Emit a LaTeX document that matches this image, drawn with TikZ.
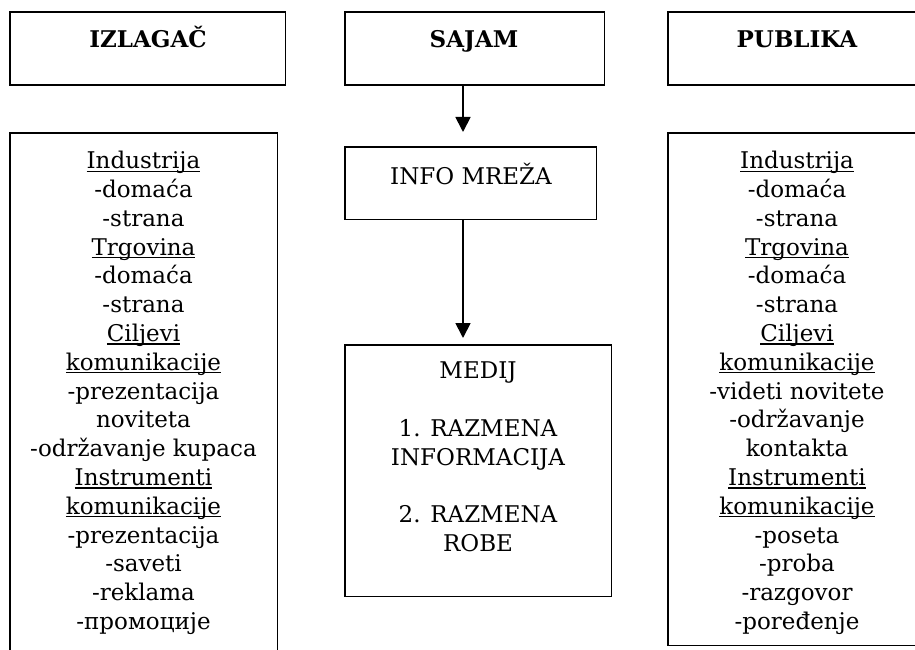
\documentclass[tikz,border=0pt]{standalone}
\usepackage{fontspec}
\setmainfont{DejaVu Serif}
\usetikzlibrary{arrows.meta}
\newcommand\ulin[1]{\setbox0\hbox{#1}\rlap{\rule[-3.2pt]{\wd0}{1.3pt}}\box0}
\tikzset{
  frame/.style={line width=1.8pt},
  boxshape/.style={draw=none, inner sep=0pt, anchor=north west},
  txt/.style={font=\fontsize{23}{28.8}\selectfont, align=center, inner sep=0pt, anchor=north},
  ttl/.style={font=\fontsize{23}{28.8}\selectfont\bfseries, inner sep=0pt, anchor=base},
  arr/.style={line width=1.8pt, -{Triangle[length=15pt,width=15pt]}},
}
\begin{document}
\begin{tikzpicture}[x=1pt,y=-1pt]
\useasboundingbox[fill=white] (0,0) rectangle (915,650);
% top boxes
\node[boxshape, minimum width=275pt, minimum height=73pt] (izl) at (10,12) {};
\node[boxshape, minimum width=259pt, minimum height=73pt] (saj) at (345,12) {};
\node[boxshape, minimum width=247pt, minimum height=73pt] (pub) at (668,12) {};
\draw[frame] (izl.north west) rectangle (izl.south east);
\draw[frame] (saj.north west) rectangle (saj.south east);
\draw[frame] (pub.north east) -- (pub.north west) -- (pub.south west) -- (pub.south east);
\node[ttl] (izlt) at (148,48) {IZLAGAČ};
\node[ttl] (sajt) at (474,48) {SAJAM};
\node[ttl] (pubt) at (797,48) {PUBLIKA};
% middle boxes
\node[boxshape, minimum width=251pt, minimum height=72pt] (info) at (345,147) {};
\node[boxshape, minimum width=266pt, minimum height=251pt] (med) at (345,345) {};
\draw[frame] (info.north west) rectangle (info.south east);
\draw[frame] (med.north west) rectangle (med.south east);
\node[txt, anchor=base] (infot) at (471,184) {INFO MREŽA};
\node[txt] (medt) at (478,362) {MEDIJ\\[28.8pt]1. RAZMENA\\INFORMACIJA\\[28.8pt]2. RAZMENA\\ROBE};
% arrows
\coordinate (arrx) at (463,0);
\draw[arr, shorten >=15pt] (arrx |- saj.south) -- (arrx |- info.north);
\draw[arr, shorten >=7pt] (arrx |- info.south) -- (arrx |- med.north);
% side boxes
\node[boxshape, minimum width=267pt, minimum height=517pt] (lbig) at (10,133) {};
\node[boxshape, minimum width=247pt, minimum height=512pt] (rbig) at (668,133) {};
\draw[frame] (lbig.south west) -- (lbig.north west) -- (lbig.north east) -- (lbig.south east);
\draw[frame] (rbig.north east) -- (rbig.north west) -- (rbig.south west) -- (rbig.south east);
\node[txt] (lt) at (143.5,151) {\ulin{Industrija}\\-domaća\\-strana\\\ulin{Trgovina}\\-domaća\\-strana\\\ulin{Ciljevi}\\\ulin{komunikacije}\\-prezentacija\\noviteta\\-održavanje kupaca\\\ulin{Instrumenti}\\\ulin{komunikacije}\\-prezentacija\\-saveti\\-reklama\\-промоције};
\node[txt] (rt) at (797,151) {\ulin{Industrija}\\-domaća\\-strana\\\ulin{Trgovina}\\-domaća\\-strana\\\ulin{Ciljevi}\\\ulin{komunikacije}\\-videti novitete\\-održavanje\\kontakta\\\ulin{Instrumenti}\\\ulin{komunikacije}\\-poseta\\-proba\\-razgovor\\-poređenje};
\end{tikzpicture}
\end{document}
